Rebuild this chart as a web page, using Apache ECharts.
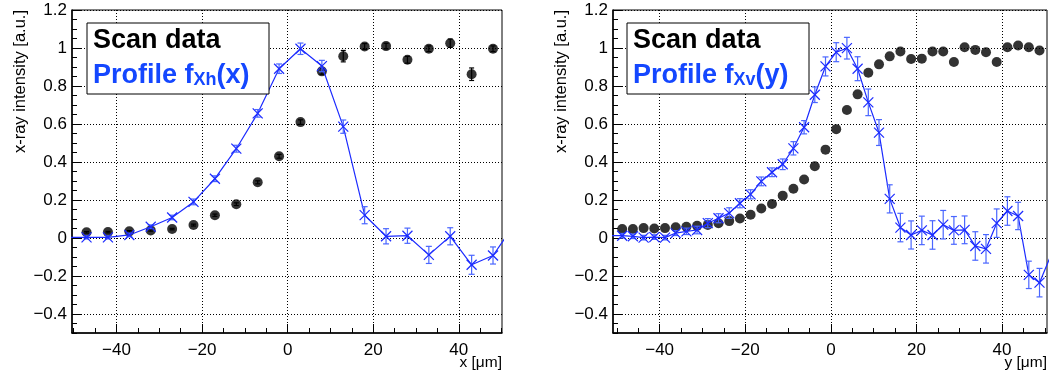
<!DOCTYPE html>
<html><head><meta charset="utf-8">
<script src="https://cdn.jsdelivr.net/npm/echarts@6/dist/echarts.min.js"></script>
<style>html,body{margin:0;padding:0;background:#fff}#c{width:1049px;height:377px}</style>
</head><body><div id="c"></div>
<script>
// ---------- Left panel: horizontal scan ----------
const xhPos = [-47,-42,-37,-32,-27,-22,-17,-12,-7,-2,3,8,13,18,23,28,33,38,43,48];
const xhScan = [0.030,0.031,0.035,0.040,0.047,0.068,0.120,0.178,0.293,0.430,0.610,0.877,0.957,1.008,1.010,0.938,0.996,1.025,0.862,0.996];
const xhScanErr = [0.004,0.004,0.004,0.004,0.004,0.005,0.006,0.007,0.008,0.010,0.012,0.015,0.030,0.015,0.015,0.018,0.015,0.022,0.033,0.015];
const xhProf = [0.003,0.003,0.016,0.059,0.108,0.190,0.312,0.470,0.656,0.891,0.996,0.905,0.586,0.120,0.009,0.012,-0.089,0.009,-0.141,-0.092];
const xhProfErr = [0.008,0.008,0.010,0.010,0.012,0.015,0.015,0.018,0.020,0.025,0.030,0.030,0.035,0.045,0.040,0.040,0.045,0.045,0.050,0.045];
const xhEdgePos = [-52, 53];
const xhEdgeVal = [0.004, 0.070];

// ---------- Right panel: vertical scan ----------
const yvPos = [-48.75,-46.25,-43.75,-41.25,-38.75,-36.25,-33.75,-31.25,-28.75,-26.25,-23.75,-21.25,-18.75,-16.25,-13.75,-11.25,-8.75,-6.25,-3.75,-1.25,1.25,3.75,6.25,8.75,11.25,13.75,16.25,18.75,21.25,23.75,26.25,28.75,31.25,33.75,36.25,38.75,41.25,43.75,46.25,48.75];
const yvScan = [0.047,0.047,0.052,0.050,0.052,0.057,0.059,0.064,0.069,0.078,0.089,0.103,0.122,0.155,0.179,0.223,0.259,0.308,0.378,0.465,0.573,0.674,0.756,0.870,0.914,0.956,0.982,0.942,0.944,0.982,0.982,0.926,1.004,0.990,0.978,0.926,1.004,1.013,1.004,0.987];
const yvProf = [0.012,0.009,0.002,0.005,0.002,0.026,0.035,0.042,0.078,0.104,0.131,0.183,0.230,0.298,0.346,0.388,0.472,0.583,0.754,0.903,0.978,0.999,0.891,0.714,0.555,0.206,0.055,0.016,0.040,0.016,0.070,0.040,0.043,-0.042,-0.057,0.078,0.142,0.116,-0.194,-0.235];
const yvProfErr = [0.012,0.012,0.012,0.012,0.012,0.013,0.017,0.020,0.024,0.024,0.028,0.024,0.024,0.023,0.023,0.028,0.035,0.035,0.041,0.050,0.050,0.057,0.063,0.070,0.068,0.074,0.075,0.074,0.075,0.075,0.075,0.073,0.073,0.075,0.075,0.075,0.075,0.072,0.072,0.075];
const yvEdgePos = [-51.25, 51.25];
const yvEdgeVal = [0.012, -0.100];

// ---------- Axis ticks / labels ----------
const xMajor = [-40,-20,0,20,40];
const xMinor = [-50,-45,-40,-35,-30,-25,-20,-15,-10,-5,0,5,10,15,20,25,30,35,40,45,50];
const yMajor = [-0.4,-0.2,0,0.2,0.4,0.6,0.8,1,1.2];
const yMinor = [-0.5,-0.45,-0.4,-0.35,-0.3,-0.25,-0.2,-0.15,-0.1,-0.05,0,0.05,0.1,0.15,0.2,0.25,0.3,0.35,0.4,0.45,0.5,0.55,0.6,0.65,0.7,0.75,0.8,0.85,0.9,0.95,1,1.05,1.1,1.15,1.2];

const FONT = "'Liberation Sans', Arial, Helvetica, sans-serif";
const BLUE = '#1c2bff';
const BLUE_ERR = '#4a66ff';
const BLUE_TXT = '#1447ff';

function zip(a, b, c) { return a.map((v, i) => c ? [v, b[i], c[i]] : [v, b[i]]); }

const grids = [
  {left: 72, top: 10, width: 430, height: 323},
  {left: 613, top: 10, width: 434, height: 323}
];
const xRanges = [[-50.4, 50.1], [-50.9, 50.5]];

const xAxes = [], yAxes = [];
grids.forEach((g, gi) => {
  xAxes.push({
    type: 'value', gridIndex: gi, min: xRanges[gi][0], max: xRanges[gi][1], position: 'bottom',
    axisLine: {show: true, onZero: false, lineStyle: {color: '#000', width: 1.5}},
    axisTick: {show: true, inside: true, length: 9, customValues: xMajor, lineStyle: {color: '#000', width: 1}},
    axisLabel: {show: true, customValues: xMajor, color: '#000', fontFamily: FONT, fontSize: 17, margin: 9, formatter: v => (v < 0 ? '\u2212' + (-v) : '' + v)},
    splitLine: {show: true, lineStyle: {color: '#000', width: 1, type: [1, 2]}}
  });
  xAxes.push({
    type: 'value', gridIndex: gi, min: xRanges[gi][0], max: xRanges[gi][1], position: 'bottom',
    axisLine: {show: false, onZero: false},
    axisTick: {show: true, inside: true, length: 5, customValues: xMinor, lineStyle: {color: '#000', width: 1}},
    axisLabel: {show: false}, splitLine: {show: false}
  });
  yAxes.push({
    type: 'value', gridIndex: gi, min: -0.5, max: 1.2, position: 'left',
    axisLine: {show: true, onZero: false, lineStyle: {color: '#000', width: 1.5}},
    axisTick: {show: true, inside: true, length: 10, customValues: yMajor, lineStyle: {color: '#000', width: 1}},
    axisLabel: {show: true, customValues: yMajor, color: '#000', fontFamily: FONT, fontSize: 17, margin: 5,
      formatter: v => { const s = String(Math.round(v * 10) / 10); return s.replace('-', '\u2212'); }},
    splitLine: {show: true, lineStyle: {color: '#000', width: 1, type: [1, 2]}}
  });
  yAxes.push({
    type: 'value', gridIndex: gi, min: -0.5, max: 1.2, position: 'left',
    axisLine: {show: false, onZero: false},
    axisTick: {show: true, inside: true, length: 5, customValues: yMinor, lineStyle: {color: '#000', width: 1}},
    axisLabel: {show: false}, splitLine: {show: false}
  });
});

function errRenderer(color, markerColor, capHalf, marker) {
  return function (params, api) {
    const x = api.value(0), y = api.value(1), e = api.value(2);
    const t = api.coord([x, y + e]), b = api.coord([x, y - e]), c = api.coord([x, y]);
    const st = {stroke: color, lineWidth: 1.2};
    const ch = [
      {type: 'line', shape: {x1: t[0], y1: t[1], x2: b[0], y2: b[1]}, style: st},
      {type: 'line', shape: {x1: t[0] - capHalf, y1: t[1], x2: t[0] + capHalf, y2: t[1]}, style: st},
      {type: 'line', shape: {x1: b[0] - capHalf, y1: b[1], x2: b[0] + capHalf, y2: b[1]}, style: st}
    ];
    if (marker) {
      const m = 5;
      const ms = {stroke: markerColor, lineWidth: 1.2};
      ch.push({type: 'line', shape: {x1: c[0] - m, y1: c[1] - m, x2: c[0] + m, y2: c[1] + m}, style: ms});
      ch.push({type: 'line', shape: {x1: c[0] - m, y1: c[1] + m, x2: c[0] + m, y2: c[1] - m}, style: ms});
    }
    return {type: 'group', children: ch};
  };
}

function panelSeries(gi, pos, scan, scanErr, prof, profErr, edgePos, edgeVal) {
  const xi = gi * 2, yi = gi * 2;
  const lineData = [[edgePos[0], edgeVal[0]]].concat(zip(pos, prof), [[edgePos[1], edgeVal[1]]]);
  const s = [];
  if (scanErr) {
    s.push({type: 'custom', xAxisIndex: xi, yAxisIndex: yi, clip: true, z: 3,
      renderItem: errRenderer('#000', '#000', 2.5, false), data: zip(pos, scan, scanErr)});
  }
  s.push({type: 'scatter', xAxisIndex: xi, yAxisIndex: yi, symbol: 'circle', symbolSize: 10, z: 4,
    itemStyle: {color: '#000'}, data: zip(pos, scan), silent: true});
  s.push({type: 'line', xAxisIndex: xi, yAxisIndex: yi, symbol: 'none', z: 5, clip: true,
    lineStyle: {color: BLUE, width: 1.2}, data: lineData, silent: true});
  s.push({type: 'custom', xAxisIndex: xi, yAxisIndex: yi, clip: true, z: 6,
    renderItem: errRenderer(BLUE_ERR, BLUE, 3, true), data: zip(pos, prof, profErr)});
  return s;
}

const series = [].concat(
  panelSeries(0, xhPos, xhScan, xhScanErr, xhProf, xhProfErr, xhEdgePos, xhEdgeVal),
  panelSeries(1, yvPos, yvScan, null, yvProf, yvProfErr, yvEdgePos, yvEdgeVal)
);

function legendBox(x, sub, arg) {
  return [
    {type: 'rect', shape: {x: x, y: 23, width: 182, height: 71}, style: {fill: '#fff', stroke: '#000', lineWidth: 1}, z: 100},
    {type: 'text', x: x + 6, y: 41, z: 101, style: {text: 'Scan data', fill: '#000', font: "bold 27px " + FONT, verticalAlign: 'middle', align: 'left'}},
    {type: 'text', x: x + 6, y: 76, z: 101, style: {
      text: '{a|Profile f}{s|' + sub + '}{a|(' + arg + ')}', verticalAlign: 'middle', align: 'left',
      rich: {
        a: {fontSize: 27, fontWeight: 'bold', fontFamily: FONT, fill: BLUE_TXT, verticalAlign: 'bottom'},
        s: {fontSize: 18, fontWeight: 'bold', fontFamily: FONT, fill: BLUE_TXT, verticalAlign: 'bottom'}
      }}}
  ];
}

function yTitle(cx) {
  return {type: 'text', x: cx, y: 10, rotation: Math.PI / 2,
    style: {text: 'x-ray intensity [a.u.]', font: "16.5px " + FONT, fill: '#000', align: 'right', verticalAlign: 'middle'}};
}

const graphic = [].concat(
  legendBox(87, 'Xh', 'x'),
  legendBox(627, 'Xv', 'y'),
  [
    yTitle(20),
    yTitle(561),
    {type: 'text', x: 502, y: 363, style: {text: 'x [\u03bcm]', font: "15.5px " + FONT, fill: '#000', align: 'right', verticalAlign: 'middle'}},
    {type: 'text', x: 1047, y: 363, style: {text: 'y [\u03bcm]', font: "15.5px " + FONT, fill: '#000', align: 'right', verticalAlign: 'middle'}}
  ]
);

const chart = echarts.init(document.getElementById('c'), null, {renderer: 'canvas'});
chart.setOption({
  animation: false,
  backgroundColor: '#fff',
  grid: grids.map(g => Object.assign({show: true, borderColor: '#000', borderWidth: 1, backgroundColor: 'transparent'}, g)),
  xAxis: xAxes,
  yAxis: yAxes,
  series: series,
  graphic: graphic
});
</script>
</body></html>
